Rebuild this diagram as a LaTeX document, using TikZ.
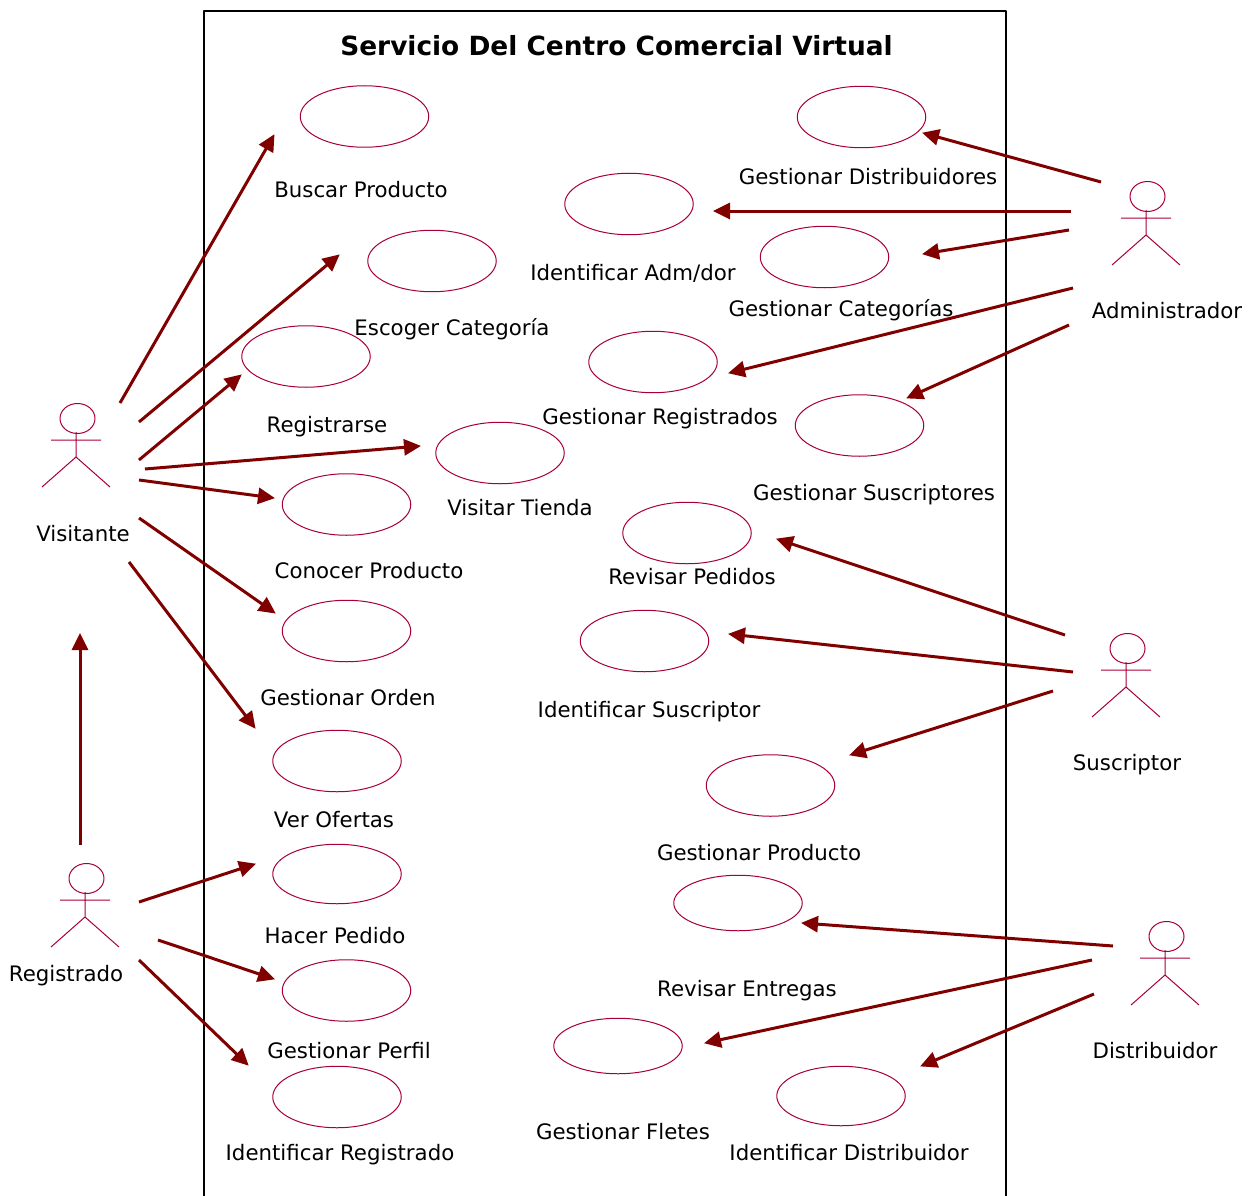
\documentclass[tikz,border=0pt]{standalone}
\usepackage{fontspec}
\setmainfont{DejaVu Sans}
\usetikzlibrary{arrows.meta,calc,shapes.geometric}
\definecolor{umlline}{HTML}{A80036}
\definecolor{flowcol}{HTML}{800000}
\tikzset{
	usecase/.style={draw=umlline,line width=1pt,ellipse,inner sep=0pt,minimum width=128.5pt},
	caption/.style={anchor=base,inner sep=0pt,yshift=-8pt,text=black},
	flow/.style={-{Triangle[length=17pt,width=16pt]},draw=flowcol,line width=3pt,shorten >=-1pt},
	pics/actor/.style={code={
		\draw [umlline,line width=1pt] (1.5,-38.5) ellipse (17.5 and 15);
		\draw [umlline,line width=1pt] (0,-25)--(0,0) (-25,-17)--(25,-17) (-34,30)--(0,0)--(34,30);
	}}
}
\begin{document}
\begin{tikzpicture}[x=1pt,y=-1pt,line join=round,font=\fontsize{21.3}{24}\selectfont]
	\useasboundingbox (0,0) rectangle (1256,1196);
	\draw [black,line width=2pt] (203.5,1196)--(203.5,11)--(1006,11)--(1006,1196);
	\node [caption,font=\fontsize{26.4}{28}\selectfont\bfseries] (titulo) at (616.5,48) {Servicio Del Centro Comercial Virtual};
	% casos de uso
	\foreach \n/\x/\y/\h/\lx/\ly/\t in {
		buscar/364.5/116.5/61.5/361/189/Buscar Producto,
		distrib/861.5/117/61.5/868/177/Gestionar Distribuidores,
		identadm/629/204/61.5/633/272/{Identificar Adm/dor},
		categ/824.5/257/61.5/841/308/Gestionar Categorías,
		escoger/432/261/61.5/452/327/Escoger Categoría,
		registrarse/306/356.5/61.5/327/424/Registrarse,
		registrados/653/362/61.5/660/416/Gestionar Registrados,
		suscriptores/859.5/425.5/61.5/874/492/Gestionar Suscriptores,
		visitar/500/453/61.5/520/507/Visitar Tienda,
		conocer/346.5/504.5/61.5/369/570/Conocer Producto,
		pedidos/687/533/61.5/692/576/Revisar Pedidos,
		orden/346.5/631/61.5/348/697/Gestionar Orden,
		identsus/644.5/641/61.5/649/709/Identificar Suscriptor,
		ofertas/337/761/61.5/334/819/Ver Ofertas,
		producto/770.5/785.5/61.5/759/852/Gestionar Producto,
		hacer/337/874/59.5/335/935/Hacer Pedido,
		entregas/738/903/55.5/747/988/Revisar Entregas,
		perfil/346.5/990.5/61.5/349/1050/Gestionar Perfil,
		fletes/618/1046/55.5/623/1131/Gestionar Fletes,
		identreg/337/1097/61.5/340/1152/Identificar Registrado,
		identdis/841/1096/59.5/849/1152/Identificar Distribuidor}{
		\node [usecase,minimum height=\h pt] (\n) at (\x,\y) {};
		\node [caption] (lb\n) at (\lx,\ly) {\t};
	}
	% actores
	\foreach \n/\x/\y/\lx/\ly/\t in {
		visitante/76/457/83/533/Visitante,
		registrado/85/917/66/973/Registrado,
		administrador/1146/235/1167/310/Administrador,
		suscriptor/1126/687/1127/762/Suscriptor,
		distribuidor/1165/975/1155/1050/Distribuidor}{
		\coordinate (\n) at (\x,\y);
		\pic at (\n) {actor};
		\node [caption] (lb\n) at (\lx,\ly) {\t};
	}
	% flechas
	\foreach \a/\ax/\ay/\b/\bx/\by in {
		visitante/44/-54/buscar/-90.5/18.5,
		visitante/63/-35/escoger/-93/-6,
		visitante/63/3/registrarse/-65/18.5,
		visitante/69/12/visitar/-80/-7,
		visitante/63/23/conocer/-72.5/-6.5,
		visitante/63/61/orden/-71.5/-18,
		visitante/53/105/ofertas/-82/-33,
		registrado/-5/-72/visitante/4/177,
		registrado/54/-15/hacer/-82/-10,
		registrado/73/23/perfil/-72.5/-11.5,
		registrado/54/43/identreg/-89/-32,
		administrador/-45/-53/distrib/61.5/16,
		administrador/-75/-24/identadm/85/7,
		administrador/-77/-5/categ/98.5/-3,
		administrador/-73/53/registrados/76/11,
		administrador/-77/90/suscriptores/47.5/-27.5,
		suscriptor/-61/-52/pedidos/90/6,
		suscriptor/-53/-15/identsus/84.5/-7,
		suscriptor/-73/4/producto/79.5/-30.5,
		distribuidor/-52/-29/entregas/64/20,
		distribuidor/-73/-15/fletes/87/-3,
		distribuidor/-71/19/identdis/80/-30}{
		\draw [flow] ($(\a)+(\ax,\ay)$)--($(\b)+(\bx,\by)$);
	}
\end{tikzpicture}
\end{document}
